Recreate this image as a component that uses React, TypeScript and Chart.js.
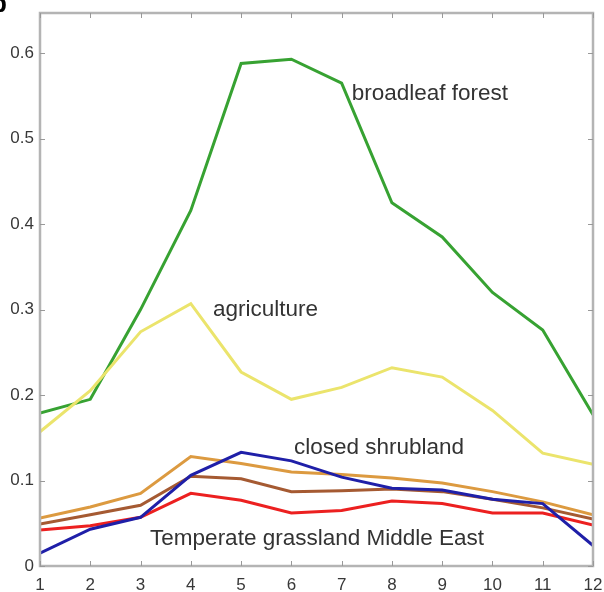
import React, { useEffect, useRef } from "react";
import { Chart, registerables } from "chart.js";

Chart.register(...registerables);

const months = [1, 2, 3, 4, 5, 6, 7, 8, 9, 10, 11, 12];
const broadleafForest = [0.179, 0.195, 0.3, 0.416, 0.588, 0.593, 0.565, 0.425, 0.385, 0.32, 0.276, 0.177];
const agriculture = [0.157, 0.205, 0.274, 0.307, 0.227, 0.195, 0.209, 0.232, 0.221, 0.182, 0.132, 0.119];
const closedShrublandTan = [0.056, 0.069, 0.085, 0.128, 0.12, 0.11, 0.107, 0.103, 0.097, 0.087, 0.075, 0.06];
const shrublandBrown = [0.049, 0.06, 0.071, 0.105, 0.102, 0.087, 0.088, 0.09, 0.087, 0.078, 0.068, 0.055];
const grasslandRed = [0.042, 0.047, 0.057, 0.085, 0.077, 0.062, 0.065, 0.076, 0.073, 0.062, 0.062, 0.048];
const grasslandBlue = [0.015, 0.043, 0.057, 0.106, 0.133, 0.123, 0.104, 0.091, 0.089, 0.078, 0.073, 0.024];
const yTicks = [0, 0.1, 0.2, 0.3, 0.4, 0.5, 0.6];

const annotations = [
  { text: "broadleaf forest", x: 7.2, y: 0.553 },
  { text: "agriculture", x: 4.44, y: 0.3 },
  { text: "closed shrubland", x: 6.05, y: 0.138 },
  { text: "Temperate grassland Middle East", x: 3.19, y: 0.032 },
];

const FONT = "'Liberation Sans', Arial, sans-serif";

const boxPlugin = {
  id: "boxPlugin",
  afterDraw(chart: any) {
    const { ctx, chartArea: a, scales } = chart;
    const xs = scales.x;
    const ys = scales.y;
    ctx.save();
    ctx.strokeStyle = "#b4b4b4";
    ctx.lineWidth = 2.5;
    ctx.strokeRect(a.left, a.top, a.right - a.left, a.bottom - a.top);
    ctx.lineWidth = 1;
    ctx.strokeStyle = "#999";
    const tl = 5;
    months.forEach((m) => {
      const px = Math.round(xs.getPixelForValue(m)) + 0.5;
      ctx.beginPath();
      ctx.moveTo(px, a.bottom);
      ctx.lineTo(px, a.bottom - tl);
      ctx.moveTo(px, a.top);
      ctx.lineTo(px, a.top + tl);
      ctx.stroke();
    });
    yTicks.forEach((v) => {
      const py = Math.round(ys.getPixelForValue(v)) + 0.5;
      ctx.beginPath();
      ctx.moveTo(a.left, py);
      ctx.lineTo(a.left + tl, py);
      ctx.moveTo(a.right, py);
      ctx.lineTo(a.right - tl, py);
      ctx.stroke();
    });
    ctx.fillStyle = "#333";
    ctx.font = "22.5px " + FONT;
    ctx.textBaseline = "middle";
    ctx.textAlign = "left";
    annotations.forEach((an) => {
      ctx.fillText(an.text, xs.getPixelForValue(an.x), ys.getPixelForValue(an.y));
    });
    ctx.fillStyle = "#000";
    ctx.font = "bold 26px " + FONT;
    ctx.textBaseline = "alphabetic";
    ctx.fillText("b", -9, 12);
    ctx.restore();
  },
};

export default function App() {
  const ref = useRef<HTMLCanvasElement>(null);
  useEffect(() => {
    if (!ref.current) return;
    const mk = (data: number[], color: string) => ({
      data,
      borderColor: color,
      backgroundColor: color,
      borderWidth: 3,
      pointRadius: 0,
      tension: 0,
      fill: false,
    });
    const chart = new Chart(ref.current, {
      type: "line",
      data: {
        labels: months,
        datasets: [
          mk(grasslandBlue, "#1f1fa8"),
          mk(grasslandRed, "#ec2020"),
          mk(shrublandBrown, "#a55a32"),
          mk(closedShrublandTan, "#dc9a40"),
          mk(agriculture, "#ebe46c"),
          mk(broadleafForest, "#37a232"),
        ],
      },
      options: {
        animation: false,
        responsive: false,
        maintainAspectRatio: false,
        layout: { padding: { top: 13, right: 11, left: 0, bottom: 0 } },
        plugins: { legend: { display: false }, tooltip: { enabled: false } },
        scales: {
          x: {
            type: "linear",
            min: 1,
            max: 12,
            afterBuildTicks: (s: any) => {
              s.ticks = months.map((v) => ({ value: v }));
            },
            afterFit: (s: any) => {
              s.height = 26;
              s.paddingLeft = 0;
              s.paddingRight = 0;
            },
            grid: { display: false, drawTicks: false },
            border: { display: false },
            ticks: {
              color: "#383838",
              font: { size: 17, family: FONT },
              padding: 9,
              maxRotation: 0,
              autoSkip: false,
            },
          },
          y: {
            min: 0,
            max: 0.647,
            afterBuildTicks: (s: any) => {
              s.ticks = yTicks.map((v) => ({ value: v }));
            },
            afterFit: (s: any) => {
              s.width = 40;
              s.paddingTop = 0;
              s.paddingBottom = 0;
            },
            grid: { display: false, drawTicks: false },
            border: { display: false },
            ticks: {
              color: "#383838",
              font: { size: 17, family: FONT },
              padding: 6,
              callback: (v: any) => (v === 0 ? "0" : Number(v).toFixed(1)),
            },
          },
        },
      },
      plugins: [boxPlugin],
    });
    return () => chart.destroy();
  }, []);
  return (
    <div style={{ position: "absolute", left: 0, top: 0, width: 604, height: 592, background: "#fff" }}>
      <canvas ref={ref} width={604} height={592} style={{ width: 604, height: 592 }} />
    </div>
  );
}
